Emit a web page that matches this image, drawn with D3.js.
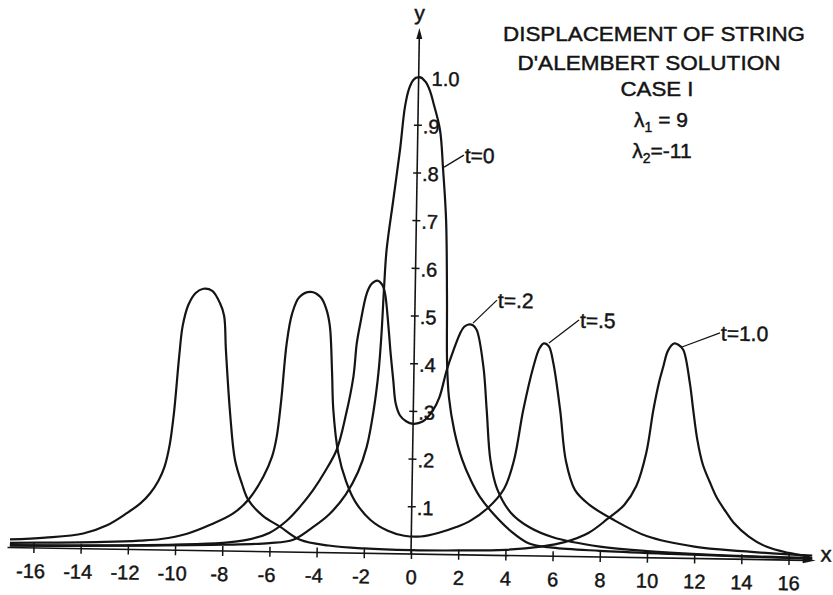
<!DOCTYPE html>
<html><head><meta charset="utf-8">
<script src="https://cdn.jsdelivr.net/npm/d3@7"></script>
<style>
body{margin:0;background:#fff}
svg{display:block}
text{font-family:"Liberation Sans",Arial,sans-serif;fill:#141414;stroke:#141414;stroke-width:0.45px}
</style>
</head><body>
<svg id="c" width="833" height="595"></svg>
<script>
// ---- data ----
const xTicks = [-16,-14,-12,-10,-8,-6,-4,-2,0,2,4,6,8,10,12,14,16];
const xTickLabels = ["-16","-14","-12","-10","-8","-6","-4","-2","0","2","4","6","8","10","12","14","16"];
const yTicks = [0.1,0.2,0.3,0.4,0.5,0.6,0.7,0.8,0.9,1.0];
const yTickLabels = [".1",".2",".3",".4",".5",".6",".7",".8",".9","1.0"];
const titleLines = ["DISPLACEMENT OF STRING","D'ALEMBERT SOLUTION","CASE I"];
const lambdaLabels = [["λ","1"," = 9"],["λ","2","=-11"]];
const curveNames = ["t=0","t=.2","t=.5","t=1.0"];

const t0 = [[-17,0.004],[-14,0.006],[-11,0.009],[-8,0.013],[-6,0.018],[-5,0.026],[-4.2,0.052],[-3.5,0.08],[-2.8,0.123],[-2.3,0.17],[-1.95,0.223],[-1.68,0.3],[-1.5,0.38],[-1.4,0.46],[-1.32,0.56],[-1.24,0.637],[-0.99,0.742],[-0.74,0.847],[-0.56,0.937],[-0.4,0.975],[-0.2,0.995],[0.05,1.0],[0.3,0.99],[0.5,0.97],[0.65,0.945],[0.94,0.89],[1.1,0.806],[1.26,0.701],[1.35,0.54],[1.4,0.4],[1.5,0.33],[1.75,0.26],[2.1,0.2],[2.5,0.155],[2.88,0.122],[3.5,0.085],[4.2,0.052],[5,0.026],[6,0.018],[8,0.013],[11,0.009],[14,0.006],[17,0.004]];

const t02 = [[-17,0.005],[-13,0.008],[-10,0.012],[-8,0.017],[-6.97,0.024],[-6,0.04],[-5.3,0.065],[-4.74,0.095],[-4.2,0.13],[-3.7,0.17],[-3.22,0.216],[-2.85,0.29],[-2.56,0.37],[-2.44,0.44],[-2.31,0.48],[-2.05,0.545],[-1.85,0.565],[-1.61,0.572],[-1.4,0.563],[-1.28,0.546],[-1.11,0.476],[-1.0,0.42],[-0.87,0.364],[-0.75,0.315],[-0.56,0.29],[-0.3,0.278],[0,0.273],[0.4,0.278],[0.83,0.302],[1.1,0.33],[1.39,0.387],[1.67,0.43],[1.93,0.464],[2.1,0.478],[2.28,0.483],[2.45,0.482],[2.63,0.472],[2.94,0.395],[3.11,0.304],[3.3,0.2],[3.6,0.14],[4.2,0.09],[5,0.06],[6,0.04],[8,0.022],[10,0.014],[13,0.008],[17,0.005]];

const t05 = [[-17,0.01],[-15,0.012],[-13,0.015],[-11.5,0.019],[-10.6,0.023],[-9.5,0.035],[-8.5,0.055],[-7.56,0.079],[-6.9,0.11],[-6.31,0.157],[-5.95,0.2],[-5.77,0.241],[-5.6,0.32],[-5.41,0.4375],[-5.2,0.5],[-4.9,0.535],[-4.43,0.546],[-4.0,0.535],[-3.75,0.51],[-3.59,0.474],[-3.47,0.38],[-3.39,0.3],[-3.15,0.209],[-2.8,0.15],[-2.4,0.108],[-1.74,0.07],[-1.0,0.048],[-0.3,0.038],[0.4,0.037],[1.2,0.046],[1.9,0.058],[2.5,0.072],[3.2,0.098],[3.9,0.14],[4.3,0.2],[4.66,0.306],[5.06,0.397],[5.3,0.435],[5.49,0.446],[5.7,0.44],[5.9,0.405],[6.22,0.307],[6.5,0.2],[6.9,0.14],[7.5,0.11],[8.5,0.08],[10,0.045],[12,0.025],[14,0.017],[17,0.01]];

const t10 = [[-17,0.017],[-15.5,0.022],[-13.9,0.032],[-12.9,0.05],[-12.07,0.076],[-11.5,0.097],[-11.1,0.118],[-10.75,0.145],[-10.5,0.175],[-10.3,0.22],[-10.14,0.287],[-9.95,0.41],[-9.83,0.47],[-9.6,0.515],[-9.3,0.54],[-8.98,0.549],[-8.6,0.545],[-8.26,0.519],[-8.08,0.493],[-7.98,0.421],[-7.76,0.289],[-7.52,0.191],[-7.2,0.14],[-6.93,0.108],[-6.3,0.075],[-5.57,0.053],[-4.71,0.026],[-3.5,0.015],[-2,0.01],[0,0.008],[2,0.009],[4,0.012],[5.5,0.02],[6.5,0.03],[7.5,0.05],[8.3,0.08],[9,0.11],[9.5,0.15],[9.9,0.22],[10.17,0.31],[10.4,0.37],[10.56,0.401],[10.75,0.435],[11.0,0.45],[11.2,0.447],[11.4,0.437],[11.7,0.367],[11.86,0.311],[12.05,0.25],[12.3,0.198],[12.6,0.162],[12.92,0.128],[13.3,0.1],[13.64,0.077],[14.3,0.048],[15.07,0.027],[16,0.015],[16.9,0.008]];

const curves = [t0, t02, t05, t10];
// label leader: point on curve -> end of leader, in data units
const leaderFrom = [[1.14,0.812],[2.47,0.486],[5.70,0.447],[11.34,0.443]];
const leaderTo   = [[1.97,0.838],[3.47,0.535],[6.96,0.496],[12.94,0.474]];

// ---- drawing ----
const ox = 411, oy = 554, ux = 23.6, uy = 477, tilt = 0.92;
const x = d3.scaleLinear().domain([-16,16]).range([ox-16*ux, ox+16*ux]);
const y = d3.scaleLinear().domain([0,1]).range([oy, oy-uy]);
const ink = "#141414";

const svg = d3.select("#c");
svg.append("rect").attr("width",833).attr("height",595).attr("fill","#fff");
const g = svg.append("g").attr("transform",`rotate(${tilt} ${ox} ${oy})`);

// x axis
g.append("line").attr("x1",x(-17.1)).attr("x2",x(16.7)).attr("y1",y(0)).attr("y2",y(0))
  .attr("stroke",ink).attr("stroke-width",1.6);
g.append("path").attr("d",`M${x(17.15)},${y(0)} l-13,-3 l0,6 z`).attr("fill",ink);
const xa = g.append("g").attr("transform",`translate(0,${y(0)})`)
  .call(d3.axisBottom(x).tickValues(xTicks).tickSize(0).tickFormat((d,i)=>xTickLabels[i]));
xa.select(".domain").remove();
xa.selectAll(".tick line").attr("y1",-5).attr("y2",5).attr("stroke",ink).attr("stroke-width",1.5);
xa.selectAll(".tick text").attr("y",30).attr("dy",0).attr("font-size",20)
  .attr("font-family","Liberation Sans, Arial, sans-serif").attr("fill",ink)
  .attr("dx",d=>d<0?-3:0);
g.append("text").attr("x",x(17.35)).attr("y",y(0)+1).attr("font-size",22).text("x");

// y axis
g.append("line").attr("x1",x(0)).attr("x2",x(0)).attr("y1",y(0)).attr("y2",y(1.08))
  .attr("stroke",ink).attr("stroke-width",1.6);
g.append("path").attr("d",`M${x(0)},${y(1.103)} l-3,11 l6,0 z`).attr("fill",ink);
const ya = g.append("g").attr("transform",`translate(${x(0)},0)`)
  .call(d3.axisRight(y).tickValues(yTicks).tickSize(0).tickFormat((d,i)=>yTickLabels[i]));
ya.select(".domain").remove();
ya.selectAll(".tick line").attr("x1",-4).attr("x2",4).attr("stroke",ink).attr("stroke-width",1.5);
ya.selectAll(".tick text").attr("x",(d)=>d===1?13:5).attr("dy","0.4em").attr("font-size",20)
  .attr("font-family","Liberation Sans, Arial, sans-serif").attr("fill",ink);
g.append("text").attr("x",x(0)).attr("y",y(1.105)-7).attr("text-anchor","middle")
  .attr("font-size",21).text("y");

// curves
const line = d3.line().x(d=>x(d[0])).y(d=>y(d[1])).curve(d3.curveCatmullRom.alpha(0.5));
g.selectAll("path.curve").data(curves).join("path").attr("class","curve")
  .attr("d",line).attr("fill","none").attr("stroke",ink).attr("stroke-width",2.2)
  .attr("stroke-linejoin","round");

// curve labels
curveNames.forEach((nm,i)=>{
  const a = leaderFrom[i], b = leaderTo[i];
  g.append("line").attr("x1",x(a[0])).attr("y1",y(a[1])).attr("x2",x(b[0])).attr("y2",y(b[1]))
    .attr("stroke",ink).attr("stroke-width",1.3);
  g.append("text").attr("x",x(b[0])+1).attr("y",y(b[1])).attr("dy","0.36em")
    .attr("font-size",21).text(nm);
});

// title block
const tg = svg.append("g").attr("font-size",21);
const tPos = [[654,41,302],[649,70,263],[657,96,73]];
titleLines.forEach((t,i)=>{
  tg.append("text").attr("x",tPos[i][0]).attr("y",tPos[i][1]).attr("text-anchor","middle")
    .attr("textLength",tPos[i][2]).attr("lengthAdjust","spacingAndGlyphs").text(t);
});
const lPos = [[661,127],[662,158]];
lambdaLabels.forEach((l,i)=>{
  const t = tg.append("text").attr("x",lPos[i][0]).attr("y",lPos[i][1]).attr("text-anchor","middle");
  t.append("tspan").text(l[0]);
  t.append("tspan").attr("font-size",14).attr("dy",5).text(l[1]);
  t.append("tspan").attr("dy",-5).text(l[2]);
});
</script>
</body></html>
